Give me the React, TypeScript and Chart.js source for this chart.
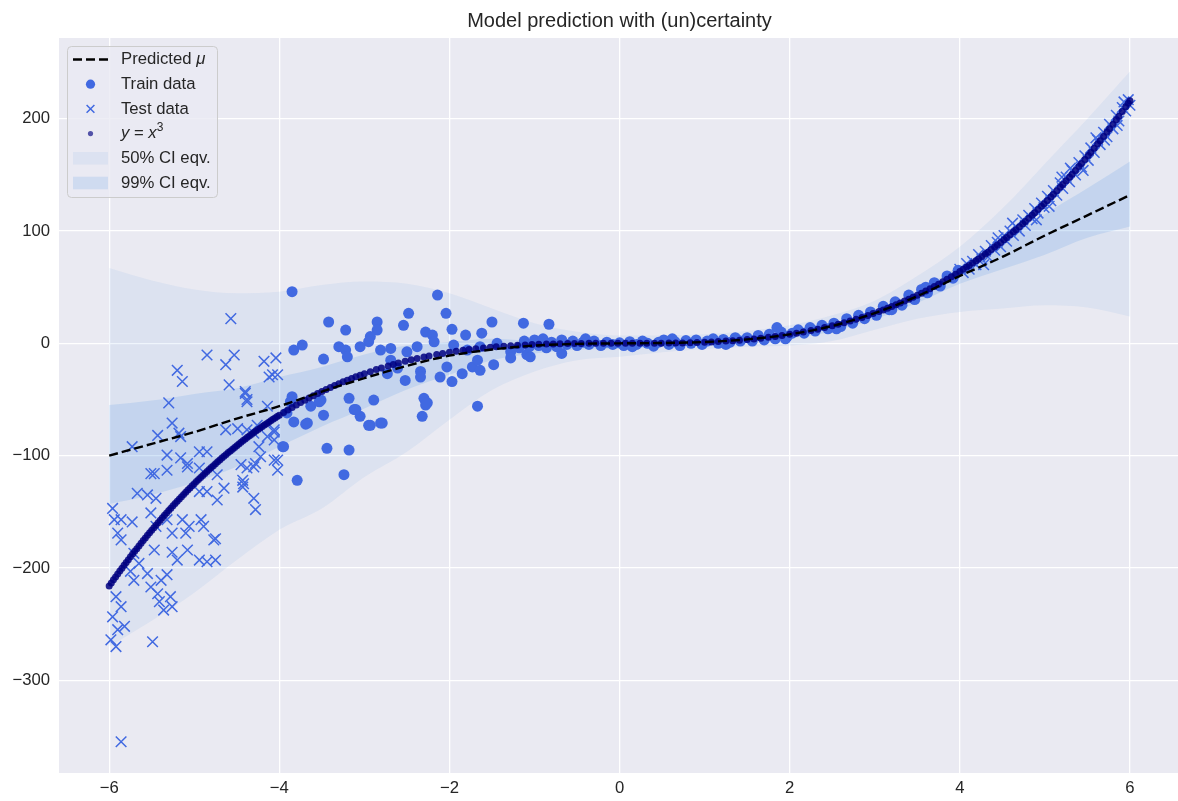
import React, { useEffect, useRef } from "react";
import { Chart, registerables } from "chart.js";

Chart.register(...registerables);

const TITLE = "Model prediction with (un)certainty";
const xTicks = [-6, -4, -2, 0, 2, 4, 6];
const yTicks = [-300, -200, -100, 0, 100, 200];

// x positions where the prediction and the two bands were read
const bandX = [-6, -5.5, -5, -4.5, -4, -3.5, -3, -2.5, -2, -1.5, -1, -0.5, 0, 0.5, 1, 1.5, 2, 2.5, 3, 3.5, 4, 4.5, 5, 5.5, 6];
const predictedMu = [-100, -89.5, -79, -67, -56, -43, -31, -20, -11, -5.5, -2, -0.5, 0, 0.3, 1.2, 3.5, 8, 15.5, 27, 42, 60, 77, 96, 114, 132];
// wide, lighter band ("50% CI eqv." in the legend)
const lightBandHi = [67, 56, 48, 44.5, 46, 52, 55, 53, 44.5, 31, 17.8, 10.3, 7, 7, 8, 11, 16, 25, 38, 60, 86, 120, 160, 200, 242];
const lightBandLo = [-270, -247, -222, -193, -166, -147, -119, -96.5, -68, -41.6, -25, -15, -12, -8, -5, -3, -2, 2, 12, 22, 28, 31, 34, 32, 24];
// narrow, darker band ("99% CI eqv." in the legend)
const darkBandHi = [-55, -51, -45, -40, -30, -21, -10, -2, 1, 4, 2, 1, 0, 1.5, 3.2, 5.8, 9.4, 16.5, 28.4, 46, 69, 90, 115, 138, 162];
const darkBandLo = [-143, -135, -124, -110, -92, -74, -58, -41, -28, -15, -9, -5.7, -5, -2.5, -0.2, 2.2, 4.6, 10.5, 21.6, 36, 53, 66, 79, 94, 104];

const trainData: [number, number][] = [
  [-3.85, 46], [-2.14, 43], [-2.48, 26.7], [-2.04, 26.7], [-3.42, 19], [-3.22, 11.8], [-2.85, 19], [-2.85, 11.8],
  [-2.54, 16], [-2.93, 6], [-2.95, 1.5], [-3.05, -3], [-3.3, -3], [-3.22, -6], [-3.2, -12], [-3.48, -14],
  [-3.83, -6], [-3.73, -1.5], [-2.81, -6], [-2.69, -4.5], [-2.28, 10], [-2.2, 7.4], [-1.97, 12.5], [-1.81, 7.4],
  [-1.62, 9], [-1.5, 19], [-1.13, 18], [-0.83, 17], [-1.44, 0], [-2.5, -7.5], [-2.38, -3], [-2.18, 1.4],
  [-1.95, -1.5], [-1.79, -6], [-1.64, -3], [-1.28, -7.5], [-1.09, -10], [-0.68, -9], [-2.69, -15], [-2.61, -22],
  [-2.73, -27], [-2.52, -33], [-2.34, -25], [-2.34, -30], [-2.11, -30], [-2.03, -21], [-1.97, -34], [-1.85, -27],
  [-1.73, -21], [-1.64, -24], [-1.48, -19], [-1.67, -15], [-1.28, -13], [-1.05, -12], [-3.51, -50.5], [-3.63, -56],
  [-3.48, -64], [-3.18, -49], [-2.89, -50.5], [-3.12, -59], [-3.05, -65], [-2.95, -73], [-2.81, -71], [-2.3, -49],
  [-2.28, -55], [-2.32, -65], [-1.67, -56], [-3.44, -93.5], [-3.18, -95], [-3.24, -117], [-3.79, -122], [-3.95, -92],
  [-3.83, -70], [-3.69, -72], [-3.87, -52], [-3.85, -47.5], [-3.91, -62], [-3.67, -71], [-2.26, -53], [-3.53, -52],
  [-3.1, -59], [-2.93, -73], [-2.79, -71], [-3.96, -92],
  [-1.18, -4], [-1.12, 2], [-1.06, -3], [-1.0, 3], [-0.95, -2], [-0.9, 4], [-0.86, -4], [-0.8, 1],
  [-0.74, -3], [-0.68, 3], [-0.62, -1], [-0.55, 2], [-0.5, -2], [-0.43, 1], [-0.36, -1], [-0.3, 2],
  [-0.22, -2], [-0.15, 1], [-0.08, -1], [0.0, 0.5], [0.05, -2], [0.12, 1.5], [0.2, -1], [0.27, 2],
  [0.33, 0], [0.4, -2.5], [0.46, 1], [0.52, 3], [0.58, -1], [0.65, 1.5], [0.71, -2], [0.78, 2.5],
  [0.84, 0], [0.9, 3], [0.97, -1], [1.03, 2], [1.1, 4], [1.16, 0], [1.22, 3.5], [1.3, 1],
  [1.36, 5], [1.42, 2], [1.5, 5], [1.56, 2], [1.63, 7], [1.7, 3], [1.76, 8], [1.83, 4],
  [1.85, 14], [1.9, 10], [1.97, 6], [2.03, 9], [2.1, 12], [2.17, 9], [2.24, 14], [2.3, 11],
  [2.38, 16], [2.45, 13], [2.52, 18], [2.6, 15], [2.67, 22], [2.74, 18], [2.81, 25], [2.88, 22],
  [2.95, 28], [3.02, 25], [3.1, 33], [3.17, 30], [3.24, 37], [3.32, 34], [3.4, 43], [3.47, 39],
  [3.55, 48], [3.62, 45], [3.7, 54], [3.77, 51], [3.85, 60], [3.92, 58], [3.98, 65],
  [-0.4, 4], [0.15, -3], [0.62, 4], [1.25, -1], [1.95, 4], [2.55, 13], [3.2, 30], [3.6, 50],
];

const testData: [number, number][] = [
  [-5.14, -34], [-4.59, -37], [-4.4, -44.5], [-5.3, -53], [-5.26, -71], [-4.38, -52], [-4.14, -56], [-5.43, -82],
  [-5.18, -80], [-5.73, -92], [-5.32, -99.5], [-5.16, -102], [-4.94, -96.5], [-4.85, -96.5], [-4.63, -77], [-4.49, -76],
  [-4.38, -77], [-4.14, -83], [-4.06, -77], [-5.47, -116], [-5.32, -113], [-5.08, -110], [-5.67, -133.6], [-5.55, -135],
  [-5.45, -138], [-4.94, -132], [-4.85, -132], [-4.65, -129], [-4.42, -125], [-4.38, -111], [-4.45, -108], [-4.28, -107],
  [-4.24, -92], [-4.02, -104], [-4.02, -113], [-4.73, -139.5], [-4.3, -138], [-4.28, -148], [-5.96, -147], [-5.94, -157],
  [-5.9, -169], [-5.86, -175], [-5.73, -159], [-5.51, -151], [-5.45, -163], [-5.32, -157], [-5.26, -169], [-5.14, -157],
  [-5.06, -163], [-4.92, -157], [-4.89, -163], [-4.75, -174], [-5.1, -169], [-5.26, -186], [-5.2, -193], [-5.08, -184],
  [-4.94, -193], [-4.85, -194.5], [-4.75, -193], [-5.47, -184], [-5.65, -196], [-5.71, -187], [-5.75, -203], [-5.71, -211],
  [-5.55, -205], [-5.51, -217], [-5.43, -223], [-5.39, -211], [-5.32, -206], [-5.41, -230], [-5.36, -237.5], [-5.28, -225.6],
  [-5.26, -234.5], [-5.92, -225.6], [-5.86, -234.5], [-5.96, -243.5], [-5.9, -255], [-5.82, -252], [-5.98, -264], [-5.92, -270],
  [-5.49, -265.7], [-5.86, -157], [-5.86, -354.8], [-4.77, -175], [-4.57, 22], [-4.85, -10.4], [-4.53, -10.4], [-4.63, -19],
  [-4.18, -16], [-4.04, -13], [-5.2, -24], [-4.4, -43], [-4.38, -50], [-4.08, -28], [-4.02, -28], [-4.12, -30],
  [-5.16, -83], [-4.26, -73], [-4.3, -80], [-5.51, -116], [-4.06, -79], [-4.06, -86], [-4.06, -104], [-5.08, -107],
  [-4.94, -111], [-4.73, -117], [-4.43, -122], [-4.43, -128], [-4.22, -101], [-4.3, -110],
  [4.0, 66], [4.04, 63], [4.08, 71], [4.11, 66], [4.15, 73], [4.19, 70], [4.22, 79], [4.26, 75],
  [4.3, 82], [4.33, 77], [4.37, 87], [4.41, 83], [4.44, 90], [4.48, 86], [4.52, 96], [4.55, 91],
  [4.59, 100], [4.63, 96], [4.66, 104], [4.7, 100], [4.74, 110], [4.77, 105], [4.81, 114], [4.85, 111],
  [4.88, 120], [4.92, 116], [4.96, 125], [4.99, 121], [5.03, 131], [5.07, 127], [5.1, 136], [5.14, 132],
  [5.18, 143], [5.21, 138], [5.25, 148], [5.29, 144], [5.32, 154], [5.36, 150], [5.4, 161], [5.43, 157],
  [5.47, 167], [5.51, 163], [5.54, 174], [5.58, 170], [5.62, 181], [5.65, 177], [5.69, 188], [5.73, 184],
  [5.76, 195], [5.8, 191], [5.84, 203], [5.87, 198], [5.91, 210], [5.95, 207], [5.98, 217], [6.0, 212],
  [4.28, 70], [4.62, 107], [4.9, 110], [5.2, 148], [5.45, 154], [5.6, 183], [5.85, 194], [5.93, 215],
  [4.45, 94], [5.05, 122], [5.3, 156], [5.7, 181],
];

const cubeCurve: [number, number][] = [
  [-6, -216], [-5.975, -213.3], [-5.95, -210.6], [-5.925, -208], [-5.9, -205.4], [-5.875, -202.8], [-5.85, -200.2], [-5.825, -197.7],
  [-5.8, -195.1], [-5.775, -192.6], [-5.75, -190.1], [-5.725, -187.6], [-5.7, -185.2], [-5.675, -182.8], [-5.65, -180.4], [-5.625, -178],
  [-5.6, -175.6], [-5.575, -173.3], [-5.55, -171], [-5.525, -168.7], [-5.5, -166.4], [-5.475, -164.1], [-5.45, -161.9], [-5.425, -159.7],
  [-5.4, -157.5], [-5.375, -155.3], [-5.35, -153.1], [-5.325, -151], [-5.3, -148.9], [-5.275, -146.8], [-5.25, -144.7], [-5.225, -142.7],
  [-5.2, -140.6], [-5.175, -138.6], [-5.15, -136.6], [-5.125, -134.6], [-5.1, -132.7], [-5.075, -130.7], [-5.05, -128.8], [-5.025, -126.9],
  [-5, -125], [-4.975, -123.1], [-4.95, -121.3], [-4.925, -119.5], [-4.9, -117.6], [-4.875, -115.9], [-4.85, -114.1], [-4.825, -112.3],
  [-4.8, -110.6], [-4.775, -108.9], [-4.75, -107.2], [-4.725, -105.5], [-4.7, -103.8], [-4.675, -102.2], [-4.65, -100.5], [-4.625, -98.9],
  [-4.6, -97.3], [-4.575, -95.8], [-4.55, -94.2], [-4.525, -92.7], [-4.5, -91.1], [-4.475, -89.6], [-4.45, -88.1], [-4.425, -86.6],
  [-4.4, -85.2], [-4.375, -83.7], [-4.35, -82.3], [-4.325, -80.9], [-4.3, -79.5], [-4.275, -78.1], [-4.25, -76.8], [-4.225, -75.4],
  [-4.2, -74.1], [-4.175, -72.8], [-4.15, -71.5], [-4.125, -70.2], [-4.1, -68.9], [-4.075, -67.7], [-4.05, -66.4], [-4.025, -65.2],
  [-4, -64], [-3.95, -61.6], [-3.9, -59.3], [-3.85, -57.1], [-3.8, -54.9], [-3.75, -52.7], [-3.7, -50.7], [-3.65, -48.6],
  [-3.6, -46.7], [-3.55, -44.7], [-3.5, -42.9], [-3.45, -41.1], [-3.4, -39.3], [-3.35, -37.6], [-3.3, -35.9], [-3.25, -34.3],
  [-3.2, -32.8], [-3.15, -31.3], [-3.1, -29.8], [-3.05, -28.4], [-3, -27],
  [-2.93, -25.2], [-2.86, -23.4], [-2.8, -22], [-2.72, -20.1], [-2.66, -18.8], [-2.6, -17.6], [-2.52, -16], [-2.45, -14.7],
  [-2.38, -13.5], [-2.3, -12.2], [-2.24, -11.2], [-2.15, -9.9], [-2.08, -9], [-2, -8], [-1.92, -7.1], [-1.84, -6.2],
  [-1.77, -5.5], [-1.69, -4.8], [-1.6, -4.1], [-1.52, -3.5], [-1.45, -3], [-1.36, -2.5], [-1.28, -2.1], [-1.2, -1.7],
  [-1.11, -1.4], [-1.03, -1.1], [-0.95, -0.9], [-0.86, -0.6], [-0.78, -0.5], [-0.7, -0.3], [-0.61, -0.2], [-0.53, -0.1],
  [-0.45, -0.1], [-0.36, 0], [-0.28, 0], [-0.19, 0], [-0.1, 0], [-0.02, 0], [0.07, 0], [0.15, 0],
  [0.24, 0], [0.32, 0], [0.41, 0.1], [0.49, 0.1], [0.58, 0.2], [0.66, 0.3], [0.74, 0.4], [0.83, 0.6],
  [0.91, 0.8], [1, 1], [1.08, 1.3], [1.16, 1.6], [1.25, 2], [1.33, 2.4], [1.41, 2.8], [1.5, 3.4],
  [1.58, 3.9], [1.66, 4.6], [1.75, 5.4], [1.83, 6.1], [1.91, 7], [2, 8], [2.08, 9], [2.16, 10.1],
  [2.25, 11.4], [2.33, 12.6], [2.41, 14], [2.5, 15.6], [2.57, 17], [2.64, 18.4], [2.71, 19.9], [2.78, 21.5],
  [2.85, 23.1], [2.92, 24.9], [2.98, 26.5],
  [3.05, 28.4], [3.1, 29.8], [3.15, 31.3], [3.2, 32.8], [3.25, 34.3], [3.3, 35.9], [3.35, 37.6], [3.4, 39.3],
  [3.45, 41.1], [3.5, 42.9], [3.55, 44.7], [3.6, 46.7], [3.65, 48.6], [3.7, 50.7], [3.75, 52.7], [3.8, 54.9],
  [3.85, 57.1], [3.9, 59.3], [3.95, 61.6], [4, 64],
  [4.04, 65.9], [4.08, 67.9], [4.11, 69.4], [4.15, 71.5], [4.19, 73.6], [4.22, 75.2], [4.26, 77.3], [4.3, 79.5],
  [4.33, 81.2], [4.37, 83.5], [4.41, 85.8], [4.44, 87.5], [4.48, 89.9], [4.52, 92.3], [4.55, 94.2], [4.59, 96.7],
  [4.63, 99.3], [4.66, 101.2], [4.7, 103.8], [4.74, 106.5], [4.77, 108.5], [4.81, 111.3], [4.85, 114.1], [4.88, 116.2],
  [4.92, 119.1], [4.96, 122], [4.99, 124.3], [5.03, 127.3], [5.07, 130.3], [5.1, 132.7], [5.14, 135.8], [5.18, 139],
  [5.21, 141.4], [5.25, 144.7], [5.29, 148], [5.32, 150.6], [5.36, 154], [5.4, 157.5], [5.43, 160.1], [5.47, 163.7],
  [5.51, 167.3], [5.54, 170], [5.58, 173.7], [5.62, 177.5], [5.65, 180.4], [5.69, 184.2], [5.73, 188.1], [5.76, 191.1],
  [5.8, 195.1], [5.84, 199.2], [5.87, 202.3], [5.91, 206.4], [5.95, 210.6], [5.98, 213.9], [6, 216],
];

const FONT = '"Liberation Sans", Arial, "DejaVu Sans", sans-serif';
const TEXT_COLOR = "#262626";
const ROYAL = "#4169E1";
const CUBE_COLOR = "rgba(0,0,128,0.85)";
const LIGHT_FILL = "rgba(100,160,230,0.1)";
const DARK_FILL = "rgba(100,160,230,0.2)";
const CLEAR = "rgba(0,0,0,0)";

const toPts = (arr: [number, number][]) => arr.map(([x, y]) => ({ x, y }));
const bandPts = (ys: number[]) => bandX.map((x, i) => ({ x, y: ys[i] }));
const fmt = (v: number) => (v < 0 ? "\u2212" + Math.abs(v) : String(v));

const bgPlugin = {
  id: "bgPlugin",
  beforeDraw(chart: any) {
    const { ctx, chartArea: a } = chart;
    ctx.save();
    ctx.fillStyle = "#ffffff";
    ctx.fillRect(0, 0, chart.width, chart.height);
    ctx.fillStyle = "#EAEAF2";
    ctx.fillRect(a.left, a.top, a.right - a.left, a.bottom - a.top);
    ctx.restore();
  },
};

const titlePlugin = {
  id: "titlePlugin",
  afterDraw(chart: any) {
    const { ctx, chartArea: a } = chart;
    ctx.save();
    ctx.font = `20px ${FONT}`;
    ctx.fillStyle = TEXT_COLOR;
    ctx.textAlign = "center";
    ctx.textBaseline = "alphabetic";
    ctx.fillText(TITLE, (a.left + a.right) / 2 + 1, 27.3);
    ctx.restore();
  },
};

const legendPlugin = {
  id: "legendPlugin",
  afterDraw(chart: any) {
    const ctx: CanvasRenderingContext2D = chart.ctx;
    const bx = 67.5, by = 46.5, bw = 150, bh = 151, r = 4;
    ctx.save();
    ctx.beginPath();
    ctx.moveTo(bx + r, by);
    ctx.lineTo(bx + bw - r, by);
    ctx.quadraticCurveTo(bx + bw, by, bx + bw, by + r);
    ctx.lineTo(bx + bw, by + bh - r);
    ctx.quadraticCurveTo(bx + bw, by + bh, bx + bw - r, by + bh);
    ctx.lineTo(bx + r, by + bh);
    ctx.quadraticCurveTo(bx, by + bh, bx, by + bh - r);
    ctx.lineTo(bx, by + r);
    ctx.quadraticCurveTo(bx, by, bx + r, by);
    ctx.closePath();
    ctx.fillStyle = "rgba(234,234,242,0.8)";
    ctx.fill();
    ctx.strokeStyle = "#cccccc";
    ctx.lineWidth = 1;
    ctx.stroke();

    const y0 = 59.5, step = 24.7;
    const hx0 = 73, hx1 = 108, hc = (hx0 + hx1) / 2, tx = 121;
    const rows = [0, 1, 2, 3, 4, 5].map((i) => y0 + i * step);

    ctx.beginPath();
    ctx.setLineDash([9, 4]);
    ctx.strokeStyle = "#000";
    ctx.lineWidth = 2.4;
    ctx.moveTo(hx0, rows[0]);
    ctx.lineTo(hx1, rows[0]);
    ctx.stroke();
    ctx.setLineDash([]);

    ctx.beginPath();
    ctx.fillStyle = ROYAL;
    ctx.arc(hc, rows[1], 4.6, 0, Math.PI * 2);
    ctx.fill();

    ctx.beginPath();
    ctx.strokeStyle = ROYAL;
    ctx.lineWidth = 1.5;
    const s = 3.9;
    ctx.moveTo(hc - s, rows[2] - s);
    ctx.lineTo(hc + s, rows[2] + s);
    ctx.moveTo(hc - s, rows[2] + s);
    ctx.lineTo(hc + s, rows[2] - s);
    ctx.stroke();

    ctx.beginPath();
    ctx.fillStyle = "rgba(0,0,128,0.65)";
    ctx.arc(hc, rows[3], 2.6, 0, Math.PI * 2);
    ctx.fill();

    ctx.fillStyle = LIGHT_FILL;
    ctx.fillRect(hx0, rows[4] - 6.3, hx1 - hx0, 12.6);
    ctx.fillStyle = DARK_FILL;
    ctx.fillRect(hx0, rows[5] - 6.3, hx1 - hx0, 12.6);

    ctx.fillStyle = TEXT_COLOR;
    ctx.textBaseline = "middle";
    ctx.textAlign = "left";
    const normal = `16.7px ${FONT}`;
    const italic = `italic 16.7px ${FONT}`;
    const drawParts = (parts: [string, string, number?][], y: number) => {
      let x = tx;
      for (const [txt, font, dy] of parts) {
        ctx.font = font;
        ctx.fillText(txt, x, y + (dy || 0));
        x += ctx.measureText(txt).width;
      }
    };
    drawParts([["Predicted ", normal], ["\u03bc", italic]], rows[0]);
    drawParts([["Train data", normal]], rows[1]);
    drawParts([["Test data", normal]], rows[2]);
    drawParts([["y", italic], [" = ", normal], ["x", italic], ["3", `12px ${FONT}`, -6]], rows[3]);
    drawParts([["50% CI eqv.", normal]], rows[4]);
    drawParts([["99% CI eqv.", normal]], rows[5]);
    ctx.restore();
  },
};

export default function App() {
  const canvasRef = useRef<HTMLCanvasElement | null>(null);

  useEffect(() => {
    document.body.style.margin = "0";
    const canvas = canvasRef.current;
    if (!canvas) return;
    const tickFont = { family: FONT, size: 16.7 };
    const chart = new Chart(canvas, {
      type: "scatter",
      data: {
        datasets: [
          {
            type: "line",
            label: "Predicted \u03bc",
            data: bandPts(predictedMu),
            borderColor: "#000000",
            borderWidth: 2.4,
            borderDash: [9, 4],
            pointRadius: 0,
            fill: false,
            cubicInterpolationMode: "monotone",
            order: 1,
          } as any,
          {
            label: "y = x\u00b3",
            data: toPts(cubeCurve),
            pointRadius: 3.5,
            backgroundColor: CUBE_COLOR,
            borderWidth: 0,
            borderColor: CLEAR,
            order: 2,
          },
          {
            label: "Test data",
            data: toPts(testData),
            pointStyle: "crossRot",
            pointRadius: 7.5,
            borderColor: ROYAL,
            backgroundColor: ROYAL,
            borderWidth: 1.5,
            order: 3,
          },
          {
            label: "Train data",
            data: toPts(trainData),
            pointRadius: 5.5,
            backgroundColor: ROYAL,
            borderColor: CLEAR,
            borderWidth: 0,
            order: 4,
          },
          {
            type: "line",
            label: "99% CI eqv.",
            data: bandPts(darkBandHi),
            fill: "+1",
            backgroundColor: DARK_FILL,
            borderColor: CLEAR,
            borderWidth: 1,
            pointRadius: 0,
            cubicInterpolationMode: "monotone",
            order: 5,
          } as any,
          {
            type: "line",
            label: "99% lo",
            data: bandPts(darkBandLo),
            fill: false,
            borderColor: CLEAR,
            borderWidth: 1,
            pointRadius: 0,
            cubicInterpolationMode: "monotone",
            order: 6,
          } as any,
          {
            type: "line",
            label: "50% CI eqv.",
            data: bandPts(lightBandHi),
            fill: "+1",
            backgroundColor: LIGHT_FILL,
            borderColor: CLEAR,
            borderWidth: 1,
            pointRadius: 0,
            cubicInterpolationMode: "monotone",
            order: 7,
          } as any,
          {
            type: "line",
            label: "50% lo",
            data: bandPts(lightBandLo),
            fill: false,
            borderColor: CLEAR,
            borderWidth: 1,
            pointRadius: 0,
            cubicInterpolationMode: "monotone",
            order: 8,
          } as any,
        ],
      },
      options: {
        responsive: false,
        devicePixelRatio: 1,
        animation: false,
        events: [],
        layout: { autoPadding: false, padding: { top: 38, left: 0, right: 0, bottom: 0 } },
        plugins: {
          legend: { display: false },
          title: { display: false },
          tooltip: { enabled: false },
        },
        scales: {
          x: {
            type: "linear",
            min: -6.59,
            max: 6.565,
            afterBuildTicks: (s: any) => {
              s.ticks = xTicks.map((v) => ({ value: v }));
            },
            afterFit: (s: any) => {
              s.height = 28;
              s.paddingLeft = 0;
              s.paddingRight = 0;
            },
            grid: { color: "#ffffff", lineWidth: 1.3, drawTicks: false },
            border: { display: false },
            ticks: {
              font: tickFont,
              color: TEXT_COLOR,
              padding: 5,
              maxRotation: 0,
              autoSkip: false,
              callback: (v: any) => fmt(Number(v)),
            },
          },
          y: {
            type: "linear",
            min: -382.6,
            max: 271.9,
            afterBuildTicks: (s: any) => {
              s.ticks = yTicks.map((v) => ({ value: v }));
            },
            afterFit: (s: any) => {
              s.width = 59;
              s.paddingTop = 0;
              s.paddingBottom = 0;
            },
            grid: { color: "#ffffff", lineWidth: 1.3, drawTicks: false },
            border: { display: false },
            ticks: {
              font: tickFont,
              color: TEXT_COLOR,
              padding: 9,
              autoSkip: false,
              callback: (v: any) => fmt(Number(v)),
            },
          },
        },
      } as any,
      plugins: [bgPlugin, titlePlugin, legendPlugin],
    });
    return () => chart.destroy();
  }, []);

  return (
    <div style={{ width: 1178, height: 801, overflow: "hidden" }}>
      <canvas ref={canvasRef} width={1178} height={801} style={{ display: "block", width: 1178, height: 801 }} />
    </div>
  );
}
